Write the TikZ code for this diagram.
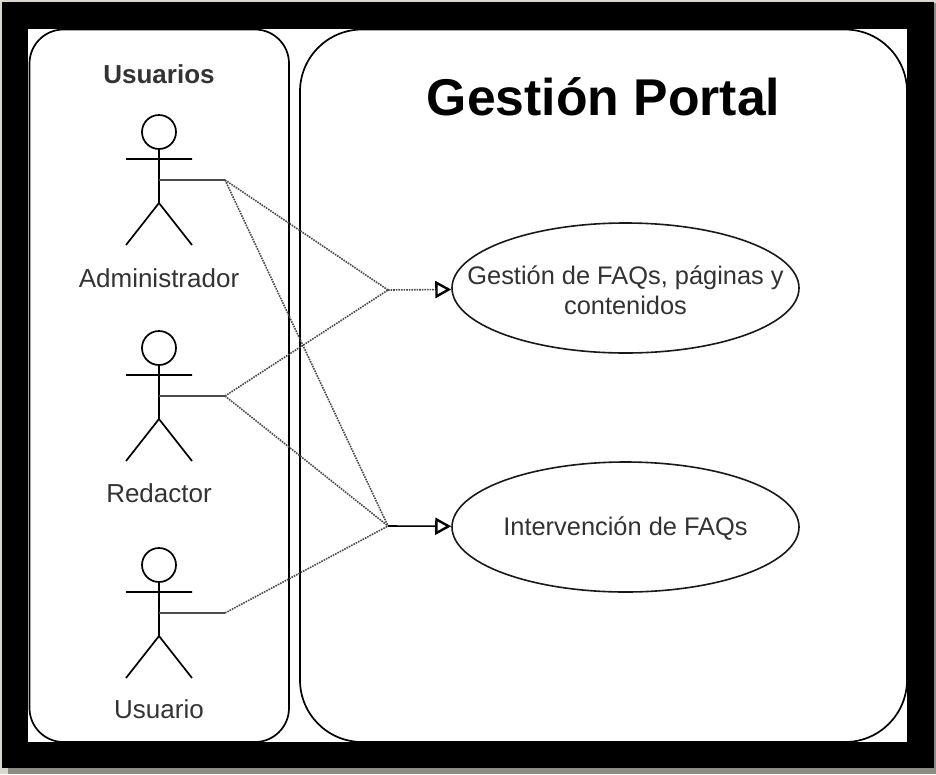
\documentclass[tikz,border=0pt]{standalone}
\usepackage{fontspec}
\setmainfont{Liberation Sans}
\definecolor{CadreNoir}{HTML}{000000}
\definecolor{FondGris}{HTML}{8C8C84}
\definecolor{FondPale}{HTML}{DAD7D0}
\definecolor{TexteGris}{HTML}{333333}
\usetikzlibrary{arrows.meta}
\usetikzlibrary{shapes.geometric}
\newcommand{\Bonhomme}{(0,-48) circle (17) (0,-31) -- (0,23) (-33,-21) -- (33,-21) (-33,65) -- (0,23) -- (33,65)}
\tikzset{
	boite/.style={draw, line width=1.7, rounded corners=34},
	casusage/.style={draw, ellipse, line width=1.6, color=black!90, minimum width=347, minimum height=130},
	texte/.style={text=TexteGris, font=\fontsize{26}{30}\selectfont, align=center},
	textecas/.style={texte, font=\fontsize{25.4}{30}\selectfont, yshift=-2},
	lien/.style={color=black!70, line width=1.6, dash pattern=on 1.6 off 1},
	fleche/.style={line width=1.6, arrows={-Triangle[open, length=16, width=17, line width=2.4, color=black]}}
}
\begin{document}
\begin{tikzpicture}[x=1pt, y=-1pt]
    \useasboundingbox (0,0) rectangle (936,774);
    % Frame
    \fill[color=FondPale] (0,0) rectangle (936,774);
    \fill[color=FondGris] (8,768) rectangle (936,774);
    \fill[color=FondGris] (934,3) rectangle (936,774);
    \fill[color=CadreNoir] (2,2) rectangle (934,768);
    \fill[white] (28,29) rectangle (907,742);
    \begin{scope}
        \clip (28,29) rectangle (907,742);
        \draw[boite] (29.5,29.5) rectangle (289,742);
        \draw[boite, rounded corners=62] (300,29.5) rectangle (907,742);
    \end{scope}
    \node[font=\fontsize{26}{30}\selectfont\bfseries, text=TexteGris] (usuarios) at (159,74) {Usuarios};
    \node[font=\fontsize{51.7}{60}\selectfont\bfseries] (portal) at (603.5,97) {Gestión Portal};
    % Actors
    \foreach \y/\nom/\lab/\txt in {180/admin/278/Administrador, 396/redac/493/Redactor, 613/usu/709/Usuario} {
        \begin{scope}[shift={(159,\y)}]
            \draw[line width=1.7] \Bonhomme;
        \end{scope}
        \coordinate (\nom) at (159,\y);
        \coordinate (coude\nom) at (225,\y);
        \node[texte] (txt\nom) at (159,\lab) {\txt};
        \draw[color=black!70, line width=1.5] (\nom) -- (coude\nom);
    }
    % Use cases
    \node[casusage, label={[textecas]center:{Gestión de FAQs, páginas y\\contenidos}}] (gestion) at (625.5,288) {};
    \node[casusage, label={[textecas]center:{Intervención de FAQs}}] (interv) at (625.5,527) {};
    \coordinate (jonctionA) at (388,290);
    \coordinate (jonctionB) at (388,526);
    \foreach \a/\b in {coudeadmin/jonctionA, coudeadmin/jonctionB, couderedac/jonctionA, couderedac/jonctionB, coudeusu/jonctionB} {
        \draw[lien] (\a) -- (\b);
    }
    \draw[lien, fleche] (jonctionA) -- (gestion);
    \draw[fleche] (jonctionB) -- (interv);
\end{tikzpicture}
\end{document}
